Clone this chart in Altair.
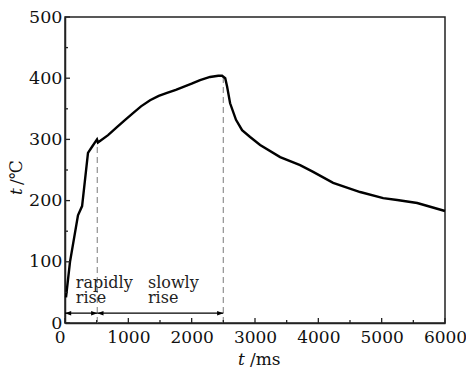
import altair as alt
import pandas as pd

# --- data ---
time_ms = [16, 79, 205, 270, 363, 427, 505, 520, 680, 820, 950, 1074, 1200,
           1343, 1480, 1611, 1750, 1870, 2000, 2133, 2290, 2420, 2480, 2530,
           2560, 2607, 2700, 2796, 2923, 3081, 3397, 3712, 3918, 4234, 4660,
           5024, 5245, 5561, 6000]
temp_c = [42, 100, 176, 191, 278, 288, 300, 295, 307, 320, 332, 343, 354,
          364, 371, 376, 381, 386, 391, 397, 402, 404, 404, 400,
          386, 359, 332, 315, 304, 291, 271, 258, 247, 229, 214,
          204, 201, 196, 183]

boundary_t = [510, 2500]
boundary_top = [299, 404]

arrow_start = [0, 510]
arrow_end = [510, 2500]
arrow_level = 16

labels_text = ["rapidly", "rise", "slowly", "rise"]
labels_t = [170, 170, 1310, 1310]
labels_T = [57, 33, 57, 33]

x_major = [0, 1000, 2000, 3000, 4000, 5000, 6000]
x_minor = [500, 1500, 2500, 3500, 4500, 5500]
y_major = [0, 100, 200, 300, 400, 500]
y_minor = [50, 150, 250, 350, 450]

W, H = 380, 306
FONT = "DejaVu Serif"

xs = alt.Scale(domain=[0, 6000], nice=False)
ys = alt.Scale(domain=[0, 500], nice=False)

curve_df = pd.DataFrame({"t": time_ms, "T": temp_c})
bound_df = pd.DataFrame({"t": boundary_t, "top": boundary_top, "zero": [0, 0]})
arrow_df = pd.DataFrame({"a": arrow_start, "b": arrow_end, "y": [arrow_level] * 2})
head_l = pd.DataFrame({"t": arrow_start, "y": [arrow_level] * 2})
head_r = pd.DataFrame({"t": arrow_end, "y": [arrow_level] * 2})
lab_df = pd.DataFrame({"t": labels_t, "T": labels_T, "txt": labels_text})

x_axis = alt.Axis(
    values=x_major, format="d", ticks=False, grid=False, domainColor="#222", domainWidth=1.5,
    labelFont=FONT, labelFontSize=17, labelColor="#111", labelPadding=6,
    labelAlign={"condition": {"test": "datum.value === 0", "value": "right"}, "value": "center"},
    title=None,
)
y_axis = alt.Axis(
    values=y_major, format="d", ticks=False, grid=False, domainColor="#222", domainWidth=1.5,
    labelFont=FONT, labelFontSize=17.5, labelColor="#111", labelPadding=3,
    labelExpr="datum.value === 0 ? '0\u00a0\u2009' : datum.label",
    title=None,
)

line = alt.Chart(curve_df).mark_line(color="black", strokeWidth=2.4).encode(
    x=alt.X("t:Q", scale=xs, axis=x_axis),
    y=alt.Y("T:Q", scale=ys, axis=y_axis),
)

dashes = alt.Chart(bound_df).mark_rule(color="#999", strokeDash=[6, 4], strokeWidth=1.3).encode(
    x=alt.X("t:Q", scale=xs), y=alt.Y("zero:Q", scale=ys), y2="top:Q"
)

arrows = alt.Chart(arrow_df).mark_rule(color="black", strokeWidth=1.3).encode(
    x=alt.X("a:Q", scale=xs), x2="b:Q", y=alt.Y("y:Q", scale=ys)
)
left_heads = alt.Chart(head_l).mark_point(
    shape="M0,0L1.6,-0.6L1.6,0.6Z", filled=True, color="black", size=60, opacity=1
).encode(x=alt.X("t:Q", scale=xs), y=alt.Y("y:Q", scale=ys))
right_heads = alt.Chart(head_r).mark_point(
    shape="M0,0L-1.6,-0.6L-1.6,0.6Z", filled=True, color="black", size=60, opacity=1
).encode(x=alt.X("t:Q", scale=xs), y=alt.Y("y:Q", scale=ys))

labels = alt.Chart(lab_df).mark_text(
    font=FONT, fontSize=16, align="left", baseline="alphabetic", color="#222"
).encode(x=alt.X("t:Q", scale=xs), y=alt.Y("T:Q", scale=ys), text="txt:N")

# ticks drawn inward
xt_major = alt.Chart(pd.DataFrame({"v": x_major})).mark_rule(color="#222", strokeWidth=1.3).encode(
    x=alt.X("v:Q", scale=xs), y=alt.value(H), y2=alt.value(H - 5))
xt_minor = alt.Chart(pd.DataFrame({"v": x_minor})).mark_rule(color="#222", strokeWidth=1.3).encode(
    x=alt.X("v:Q", scale=xs), y=alt.value(H), y2=alt.value(H - 3))
yt_major = alt.Chart(pd.DataFrame({"v": y_major})).mark_rule(color="#222", strokeWidth=1.3).encode(
    y=alt.Y("v:Q", scale=ys), x=alt.value(0), x2=alt.value(5))
yt_minor = alt.Chart(pd.DataFrame({"v": y_minor})).mark_rule(color="#222", strokeWidth=1.3).encode(
    y=alt.Y("v:Q", scale=ys), x=alt.value(0), x2=alt.value(3))

# axis titles with italic t
tdf = pd.DataFrame({"a": [0]})
xt_t = alt.Chart(tdf).mark_text(font=FONT, fontSize=17, fontStyle="italic", align="left",
                                baseline="alphabetic", color="#111").encode(
    x=alt.value(173), y=alt.value(348), text=alt.value("t"))
xt_rest = alt.Chart(tdf).mark_text(font=FONT, fontSize=17, align="left",
                                   baseline="alphabetic", color="#111").encode(
    x=alt.value(185), y=alt.value(348), text=alt.value("/ms"))
yt_t = alt.Chart(tdf).mark_text(font=FONT, fontSize=17, fontStyle="italic", align="left",
                                baseline="alphabetic", angle=270, color="#111").encode(
    x=alt.value(-43), y=alt.value(178), text=alt.value("t"))
yt_rest = alt.Chart(tdf).mark_text(font=FONT, fontSize=17, align="left",
                                   baseline="alphabetic", angle=270, color="#111").encode(
    x=alt.value(-43), y=alt.value(168), text=alt.value("/℃"))

chart = alt.layer(
    dashes, line, arrows, left_heads, right_heads, labels,
    xt_major, xt_minor, yt_major, yt_minor,
    xt_t, xt_rest, yt_t, yt_rest,
).properties(
    width=W, height=H, autosize="none",
    padding={"left": 65, "top": 17, "right": 21, "bottom": 47},
    background="white",
).configure_view(stroke="#222", strokeWidth=1.5)

chart.save("out.html", embed_options={"renderer": "svg", "actions": False})
